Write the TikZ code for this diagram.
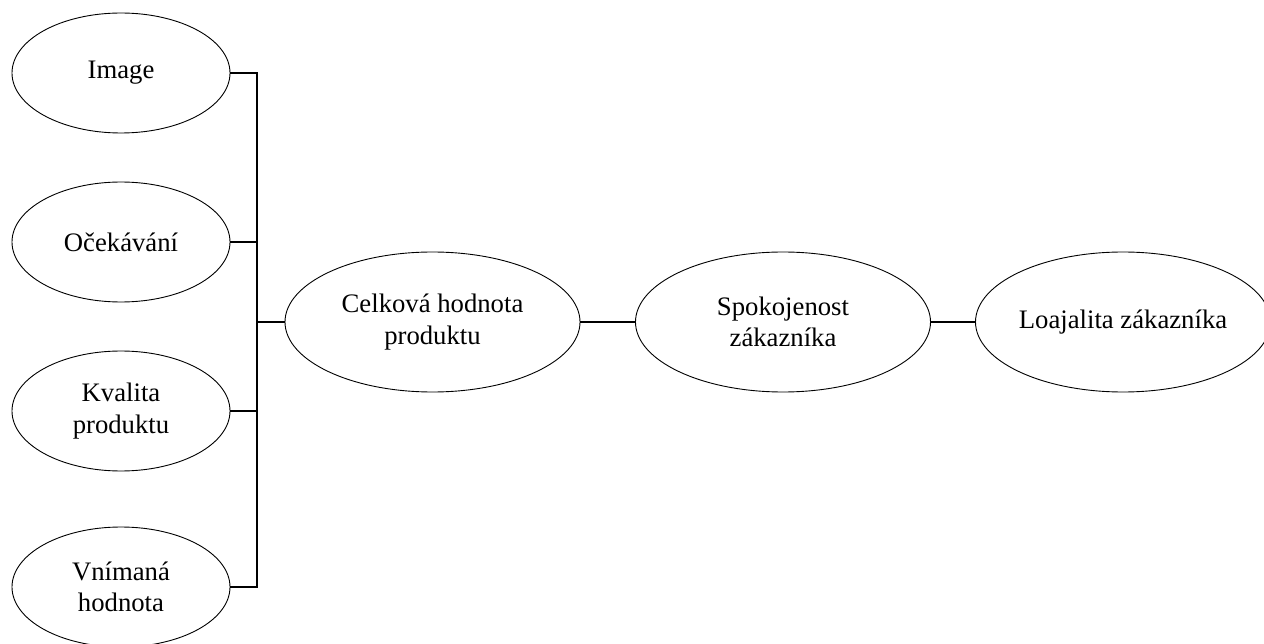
\documentclass[tikz,border=0pt]{standalone}
\usepackage{fontspec}
\setmainfont{Liberation Serif}
\usetikzlibrary{shapes.geometric}
\begin{document}
\begin{tikzpicture}[x=1pt,y=-1pt,
  small/.style={ellipse,draw,line width=0.9pt,inner sep=0pt,minimum width=218pt,minimum height=120pt,align=center,font=\fontsize{26.7}{31.5}\selectfont},
  big/.style={ellipse,draw,line width=0.9pt,inner sep=0pt,minimum width=295pt,minimum height=140pt,align=center,font=\fontsize{26.7}{31.5}\selectfont},
  conn/.style={line width=1.8pt}]
\useasboundingbox (0,0) rectangle (1264,644);
\clip (0,0) rectangle (1264,644);
\node[small] (img) at (121,73) {Image};
\node[small] (oce) at (121,242) {Očekávání};
\node[small] (kva) at (121,411) {Kvalita\\produktu};
\node[small] (vni) at (121,587) {Vnímaná\\hodnota};
\node[big] (cel) at (432.5,322) {Celková hodnota\\produktu};
\node[big] (spo) at (783,322) {Spokojenost\\zákazníka};
\node[big] (loa) at (1123,322) {Loajalita zákazníka};
\coordinate (bus) at (257,322);
\draw[conn] (img.east) -| (bus);
\draw[conn] (oce.east) -| (bus);
\draw[conn] (kva.east) -| (bus);
\draw[conn] (vni.east) -| (bus);
\draw[conn] (bus) -- (cel.west);
\draw[conn] (cel.east) -- (spo.west);
\draw[conn] (spo.east) -- (loa.west);
\end{tikzpicture}
\end{document}
